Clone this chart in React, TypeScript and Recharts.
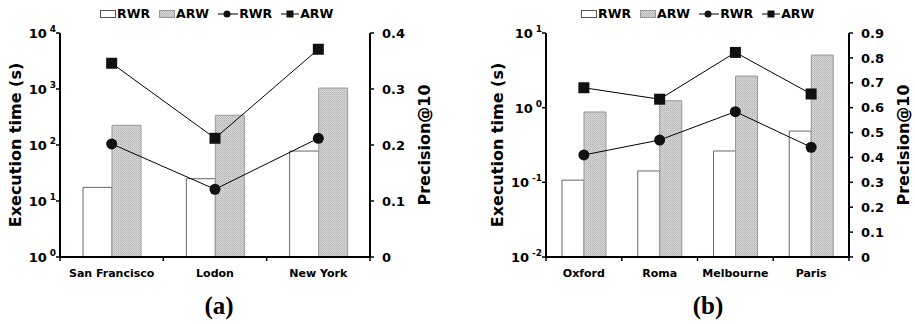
import React from 'react';
import { ComposedChart, Bar, Line, XAxis, YAxis, Label } from 'recharts';

// (a) city data
const citiesA = ['San Francisco', 'Lodon', 'New York'];
const rwrTimeA = [17.5, 25, 78];
const arwTimeA = [225, 340, 1040];
const rwrPrecA = [0.202, 0.121, 0.212];
const arwPrecA = [0.346, 0.212, 0.371];
const timeTicksA = [1, 10, 100, 1000, 10000];
const precTicksA = [0, 0.1, 0.2, 0.3, 0.4];

// (b) city data
const citiesB = ['Oxford', 'Roma', 'Melbourne', 'Paris'];
const rwrTimeB = [0.107, 0.142, 0.263, 0.486];
const arwTimeB = [0.875, 1.24, 2.65, 5.07];
const rwrPrecB = [0.41, 0.47, 0.584, 0.441];
const arwPrecB = [0.68, 0.634, 0.822, 0.655];
const timeTicksB = [0.01, 0.1, 1, 10];
const precTicksB = [0, 0.1, 0.2, 0.3, 0.4, 0.5, 0.6, 0.7, 0.8, 0.9];

const FONT = '"DejaVu Sans", Verdana, sans-serif';

const LogTick = (props: any) => {
    const { x, y, payload } = props;
    const e = Math.round(Math.log10(payload.value));
    return (
        <text x={x} y={y + 5} textAnchor="end" fontSize={13} fontWeight="bold" fill="#000">
            <tspan>10</tspan>
            <tspan dx={3} dy={-6} fontSize={9}>{e}</tspan>
        </text>
    );
};

const makeCatTick = (band: number, n: number) => (props: any) => {
    const { x, y, payload, index } = props;
    return (
        <g>
            <line x1={x - band / 2} x2={x - band / 2} y1={y} y2={y + 4} stroke="#000" strokeWidth={1.5} />
            {index === n - 1 && (
                <line x1={x + band / 2} x2={x + band / 2} y1={y} y2={y + 4} stroke="#000" strokeWidth={1.5} />
            )}
            <text x={x} y={y + 20} textAnchor="middle" fontSize={11} fontWeight="bold" fill="#000">
                {payload.value}
            </text>
        </g>
    );
};

const axisTitle = (text: string, dx: number) => (props: any) => {
    const vb = props.viewBox;
    const cx = vb.x + dx;
    const cy = vb.y + vb.height / 2;
    return (
        <text
            x={cx}
            y={cy}
            transform={`rotate(-90, ${cx}, ${cy})`}
            textAnchor="middle"
            dominantBaseline="central"
            fontSize={16}
            fontWeight="bold"
            fill="#000"
        >
            {text}
        </text>
    );
};

const CircleDot = (props: any) => {
    const { cx, cy, index } = props;
    return <circle key={index} cx={cx} cy={cy} r={5.5} fill="#111" />;
};

const SquareDot = (props: any) => {
    const { cx, cy, index } = props;
    return <rect key={index} x={cx - 5.5} y={cy - 5.5} width={11} height={11} fill="#111" />;
};

const precFormat = (v: number) => (v === 0 ? '0' : v.toFixed(1));

const Dots = ({ id }: { id: string }) => (
    <pattern id={id} patternUnits="userSpaceOnUse" width={2} height={2}>
        <rect width={2} height={2} fill="#d6d6d6" />
        <rect width={1} height={1} fill="#b4b4b4" />
        <rect x={1} y={1} width={1} height={1} fill="#c2c2c2" />
    </pattern>
);

function LegendRow({ left, pid }: { left: number; pid: string }) {
    const txt: React.CSSProperties = { fontSize: 12.5, fontWeight: 'bold', marginLeft: 1, marginRight: 9 };
    return (
        <div style={{ position: 'absolute', left, top: 7, height: 14, display: 'flex', alignItems: 'center', lineHeight: '14px' }}>
            <svg width={16} height={8}>
                <rect x={0.5} y={0.5} width={15} height={7} fill="#fff" stroke="#555" />
            </svg>
            <span style={txt}>RWR</span>
            <svg width={16} height={8}>
                <defs><Dots id={pid} /></defs>
                <rect x={0.5} y={0.5} width={15} height={7} fill={`url(#${pid})`} stroke="#999" />
            </svg>
            <span style={txt}>ARW</span>
            <svg width={20} height={10}>
                <line x1={0} x2={20} y1={5} y2={5} stroke="#000" />
                <circle cx={9} cy={5} r={3.5} fill="#111" />
            </svg>
            <span style={txt}>RWR</span>
            <svg width={18} height={10}>
                <line x1={0} x2={18} y1={5} y2={5} stroke="#000" />
                <rect x={5.5} y={1.5} width={7} height={7} fill="#111" />
            </svg>
            <span style={txt}>ARW</span>
        </div>
    );
}

interface PanelProps {
    cats: string[];
    rwrTime: number[];
    arwTime: number[];
    rwrPrec: number[];
    arwPrec: number[];
    timeTicks: number[];
    precTicks: number[];
    width: number;
    leftW: number;
    rightW: number;
    barSize: number;
    leftTitleDx: number;
    pid: string;
}

function Panel(p: PanelProps) {
    const data = p.cats.map((c, i) => ({
        name: c,
        rwrTime: p.rwrTime[i],
        arwTime: p.arwTime[i],
        rwrPrec: p.rwrPrec[i],
        arwPrec: p.arwPrec[i],
    }));
    const band = (p.width - p.leftW - p.rightW) / p.cats.length;
    const tDom = [p.timeTicks[0], p.timeTicks[p.timeTicks.length - 1]];
    const pDom = [0, p.precTicks[p.precTicks.length - 1]];
    return (
        <ComposedChart
            width={p.width}
            height={290}
            data={data}
            margin={{ top: 33, right: 0, left: 0, bottom: 0 }}
            barGap={0}
        >
            <defs>
                <Dots id={p.pid} />
            </defs>
            <XAxis
                dataKey="name"
                height={33}
                interval={0}
                tickLine={false}
                tickSize={0}
                tickMargin={0}
                axisLine={{ stroke: '#000', strokeWidth: 2 }}
                tick={makeCatTick(band, p.cats.length)}
            />
            <YAxis
                yAxisId="time"
                orientation="left"
                width={p.leftW}
                type="number"
                scale="log"
                domain={tDom}
                ticks={p.timeTicks}
                allowDataOverflow
                interval={0}
                tickSize={4}
                tickMargin={0}
                axisLine={{ stroke: '#000', strokeWidth: 2 }}
                tickLine={{ stroke: '#000', strokeWidth: 1.5 }}
                tick={LogTick}
            >
                <Label content={axisTitle('Execution time (s)', p.leftTitleDx)} />
            </YAxis>
            <YAxis
                yAxisId="prec"
                orientation="right"
                width={p.rightW}
                type="number"
                domain={pDom}
                ticks={p.precTicks}
                interval={0}
                tickSize={4}
                tickMargin={8}
                tickFormatter={precFormat}
                axisLine={{ stroke: '#000', strokeWidth: 2 }}
                tickLine={{ stroke: '#000', strokeWidth: 1.5 }}
                tick={{ fontSize: 13, fontWeight: 'bold', fill: '#000' }}
            >
                <Label content={axisTitle('Precision@10', 54)} />
            </YAxis>
            <Bar yAxisId="time" dataKey="rwrTime" name="RWR" barSize={p.barSize} fill="#fff" stroke="#666" strokeWidth={1} isAnimationActive={false} />
            <Bar yAxisId="time" dataKey="arwTime" name="ARW" barSize={p.barSize} fill={`url(#${p.pid})`} stroke="#999" strokeWidth={1} isAnimationActive={false} />
            <Line yAxisId="prec" type="linear" dataKey="rwrPrec" name="RWR" stroke="#000" strokeWidth={1} dot={CircleDot} activeDot={false} isAnimationActive={false} />
            <Line yAxisId="prec" type="linear" dataKey="arwPrec" name="ARW" stroke="#000" strokeWidth={1} dot={SquareDot} activeDot={false} isAnimationActive={false} />
        </ComposedChart>
    );
}

export default function App() {
    const caption: React.CSSProperties = {
        position: 'absolute',
        top: 291,
        fontFamily: '"Liberation Serif", "Times New Roman", serif',
        fontWeight: 'bold',
        fontSize: 25,
        lineHeight: '30px',
        transform: 'translateX(-50%)',
    };
    return (
        <div style={{ position: 'absolute', left: 0, top: 0, width: 915, height: 324, background: '#fff', fontFamily: FONT, color: '#000', overflow: 'hidden' }}>
            <div style={{ position: 'absolute', left: 0, top: 0 }}>
                <Panel
                    cats={citiesA}
                    rwrTime={rwrTimeA}
                    arwTime={arwTimeA}
                    rwrPrec={rwrPrecA}
                    arwPrec={arwPrecA}
                    timeTicks={timeTicksA}
                    precTicks={precTicksA}
                    width={460}
                    leftW={60}
                    rightW={90}
                    barSize={29}
                    leftTitleDx={15}
                    pid="dotsA"
                />
            </div>
            <div style={{ position: 'absolute', left: 460, top: 0 }}>
                <Panel
                    cats={citiesB}
                    rwrTime={rwrTimeB}
                    arwTime={arwTimeB}
                    rwrPrec={rwrPrecB}
                    arwPrec={arwPrecB}
                    timeTicks={timeTicksB}
                    precTicks={precTicksB}
                    width={455}
                    leftW={86}
                    rightW={66}
                    barSize={22}
                    leftTitleDx={37}
                    pid="dotsB"
                />
            </div>
            <LegendRow left={100} pid="legA" />
            <LegendRow left={581} pid="legB" />
            <div style={{ ...caption, left: 219 }}>(a)</div>
            <div style={{ ...caption, left: 708 }}>(b)</div>
        </div>
    );
}
